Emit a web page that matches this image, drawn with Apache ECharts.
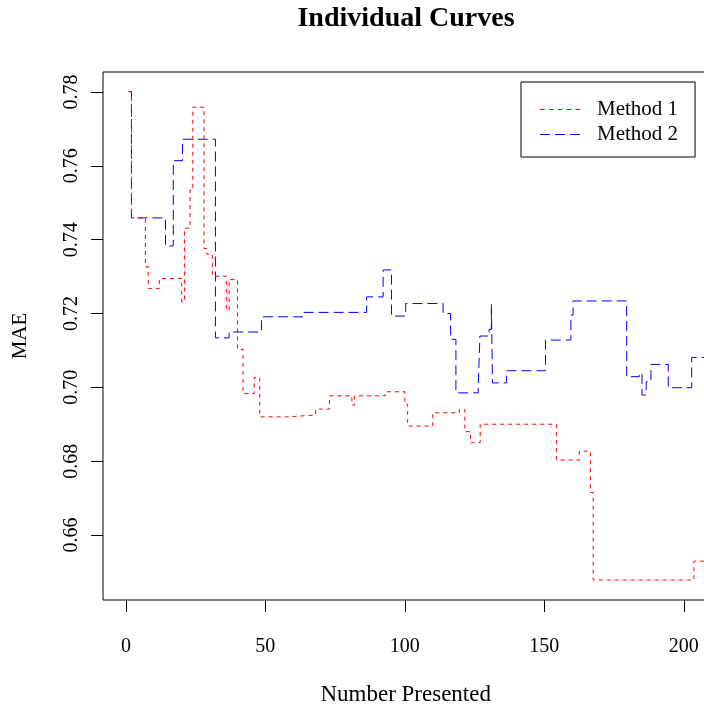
<!DOCTYPE html>
<html>
<head>
<meta charset="utf-8">
<script src="https://cdn.jsdelivr.net/npm/echarts@6/dist/echarts.min.js"></script>
<style>
html,body{margin:0;padding:0;background:#fff;}
#chart{width:704px;height:704px;}
</style>
</head>
<body>
<div id="chart"></div>
<script>
// ---- data ----
const titleText = "Individual Curves";
const xLabel = "Number Presented";
const yLabel = "MAE";
const seriesNames = ["Method 1", "Method 2"];
const xTicks = [0, 50, 100, 150, 200];
const yTicks = [0.66, 0.68, 0.70, 0.72, 0.74, 0.76, 0.78];

const method1X = [1, 2, 7, 8, 12, 20, 21, 23, 24, 28, 29, 31, 36, 37, 40, 42, 46, 48, 58, 68, 73, 81, 82, 93, 100, 101, 110, 119.5, 121.5, 123.5, 127, 154.3, 162.5, 166.5, 167.5, 203.6, 215];
const method1Y = [0.7801, 0.7459, 0.7327, 0.7268, 0.7295, 0.7232, 0.7431, 0.7534, 0.7759, 0.7376, 0.7361, 0.7301, 0.7209, 0.7292, 0.7103, 0.6983, 0.7027, 0.6920, 0.6925, 0.6941, 0.6977, 0.6952, 0.6977, 0.6988, 0.6954, 0.6895, 0.6931, 0.6940, 0.6880, 0.6850, 0.6900, 0.6803, 0.6827, 0.6715, 0.6478, 0.6529, 0.6529];

const method2X = [1, 2, 14.2, 17, 20.3, 32.1, 37, 48.6, 63.5, 86.3, 92.2, 95.2, 100.3, 113.7, 116.4, 118.3, 126.3, 126.9, 130.2, 131, 131.4, 136.4, 150.4, 159.5, 160.3, 179.5, 184, 185, 186.5, 188.2, 194.4, 202.8, 215];
const method2Y = [0.7801, 0.7459, 0.7383, 0.7614, 0.7672, 0.7134, 0.7150, 0.7191, 0.7203, 0.7245, 0.7318, 0.7193, 0.7227, 0.7200, 0.7130, 0.6985, 0.7001, 0.7139, 0.7157, 0.7225, 0.7012, 0.7045, 0.7128, 0.7196, 0.7234, 0.7029, 0.7038, 0.6979, 0.7015, 0.7062, 0.6999, 0.7081, 0.7081];

// ---- chart ----
const FONT = "'Liberation Serif', 'Times New Roman', serif";
const pairs = (xs, ys) => xs.map((x, i) => [x, ys[i]]);
// dashed-line legend icons
const iconRed = 'path://M0,0h4.5v1h-4.5z M8.9,0h4.5v1h-4.5z M17.8,0h4.5v1h-4.5z M26.7,0h4.5v1h-4.5z M35.5,0h4.5v1h-4.5z';
const iconBlue = 'path://M0,0h10v1h-10z M15,0h10v1h-10z M30,0h10v1h-10z';

const chart = echarts.init(document.getElementById('chart'), null, {renderer: 'canvas'});
chart.setOption({
  animation: false,
  backgroundColor: '#ffffff',
  title: {
    text: titleText,
    left: 406, top: 5, padding: 0,
    textAlign: 'center',
    textStyle: {fontFamily: FONT, fontWeight: 'bold', fontSize: 28, color: '#000'}
  },
  legend: {
    orient: 'vertical',
    left: 521, top: 82,
    padding: [17, 17, 12, 19],
    itemWidth: 40, itemHeight: 1.3, itemGap: 4,
    borderColor: '#000', borderWidth: 1,
    data: [{name: seriesNames[0], icon: iconRed}, {name: seriesNames[1], icon: iconBlue}],
    textStyle: {fontFamily: FONT, fontSize: 21, lineHeight: 21, color: '#000', padding: [0, 0, 0, 12]}
  },
  grid: {
    left: 103, top: 72, width: 605.4, height: 528,
    outerBoundsMode: 'none', containLabel: false,
    show: true, borderColor: '#000', borderWidth: 1, backgroundColor: 'transparent'
  },
  xAxis: {
    type: 'value', min: -8.2, max: 208.8,
    name: xLabel, nameLocation: 'middle', nameGap: 83,
    nameTextStyle: {fontFamily: FONT, fontSize: 23, color: '#000'},
    axisLine: {show: false, onZero: false},
    axisTick: {show: true, inside: false, length: 12, customValues: xTicks, lineStyle: {color: '#000'}},
    axisLabel: {customValues: xTicks, margin: 37, fontFamily: FONT, fontSize: 20, color: '#000'},
    splitLine: {show: false}
  },
  yAxis: {
    type: 'value', min: 0.64239, max: 0.78542,
    name: yLabel, nameLocation: 'middle', nameGap: 72,
    nameTextStyle: {fontFamily: FONT, fontSize: 21, color: '#000'},
    axisLine: {show: false, onZero: false},
    axisTick: {show: true, inside: false, length: 12, customValues: yTicks, lineStyle: {color: '#000'}},
    axisLabel: {customValues: yTicks, rotate: 90, margin: 21, fontFamily: FONT, fontSize: 20, color: '#000',
      formatter: v => v.toFixed(2)},
    splitLine: {show: false}
  },
  series: [
    {
      name: seriesNames[0], type: 'line', step: 'end', symbol: 'none',
      data: pairs(method1X, method1Y),
      lineStyle: {color: '#ff0000', width: 1, type: [4, 4]},
      itemStyle: {color: '#ff0000'},
      emphasis: {disabled: true}, silent: true, z: 3
    },
    {
      name: seriesNames[1], type: 'line', step: 'end', symbol: 'none',
      data: pairs(method2X, method2Y),
      lineStyle: {color: '#0000ff', width: 1, type: [10, 5]},
      itemStyle: {color: '#0000ff'},
      emphasis: {disabled: true}, silent: true, z: 2
    }
  ]
});
</script>
</body>
</html>
